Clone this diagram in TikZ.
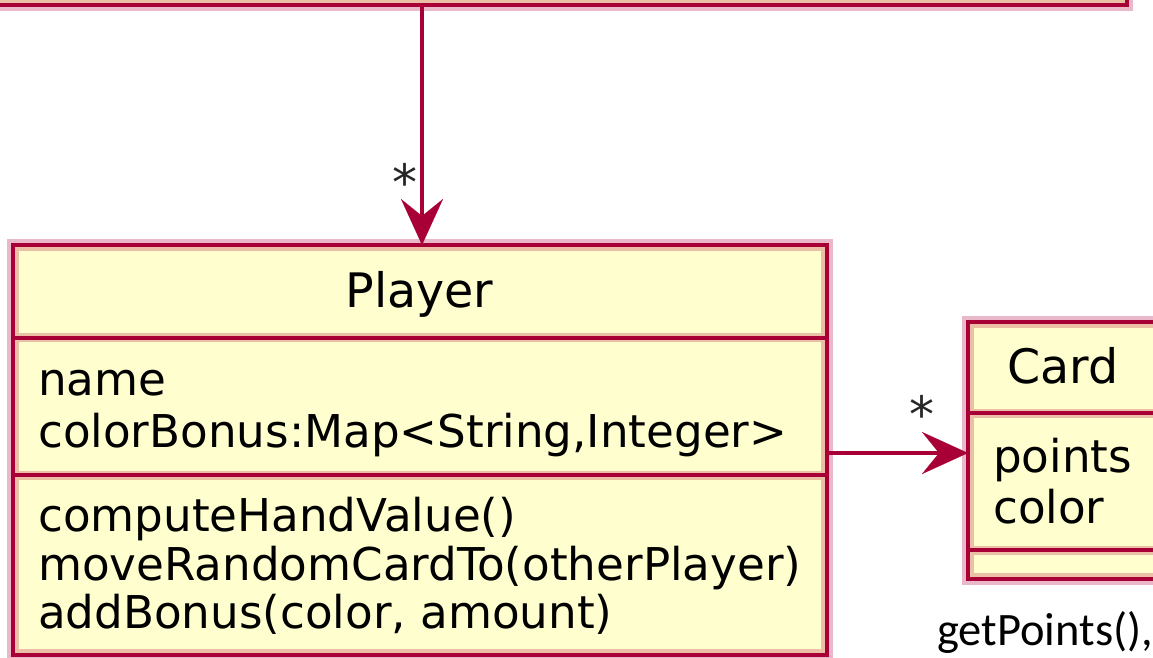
\documentclass[tikz,border=0pt]{standalone}
\usepackage{fontspec}
\setmainfont{DejaVu Sans}
\newfontfamily\notefont{Carlito}
\usetikzlibrary{arrows.meta}

\definecolor{umlred}{HTML}{A80036}
\definecolor{umlfill}{HTML}{FEFECE}
\definecolor{umlhalo}{HTML}{E9B8CA}
\definecolor{umltan}{HTML}{EBBEA6}

% horizontal compartment separator: from x=#1 to x=#2 at height #3
\newcommand\umlsep[3]{%
  \draw[umltan, line width=9pt] (#1,#3) -- (#2,#3);
  \draw[umlred, line width=4pt] (#1,#3) -- (#2,#3);}

\tikzset{
  umlbox/.style={rectangle, draw=umlred, line width=4pt, fill=umlfill,
    inner sep=0pt, outer sep=0pt,
    preaction={draw=umlhalo, line width=12pt}},
  tanframe/.style={draw=umltan, line width=4pt},
  classname/.style={font=\fontsize{47.5pt}{55pt}\selectfont, anchor=base, inner sep=0pt},
  member/.style={font=\fontsize{45.2pt}{50pt}\selectfont, anchor=base west, inner sep=0pt},
  mult/.style={font=\fontsize{50pt}{55pt}\selectfont, anchor=north, inner sep=0pt, text=black!85},
  note/.style={font=\notefont\fontsize{46.5pt}{50pt}\selectfont, anchor=base west, inner sep=0pt},
  assoc/.style={draw=umlred, line width=3.5pt,
    -{Stealth[length=46pt, width=42pt, inset=17pt, line width=0.1pt]}},
}

\begin{document}
\begin{tikzpicture}[x=1pt, y=-1pt]
\useasboundingbox (0,0) rectangle (1153,657);
\clip (0,0) rectangle (1153,657);

% class boxes
\node[umlbox, minimum width=1157pt, minimum height=220pt] (topbox) at (548.5,-105) {};
\draw[tanframe] ([shift={(4,4)}]topbox.north west) rectangle ([shift={(-4,-4)}]topbox.south east);

\node[umlbox, minimum width=814pt, minimum height=410pt] (player) at (419.5,450) {};
\draw[tanframe] ([shift={(4,4)}]player.north west) rectangle ([shift={(-4,-4)}]player.south east);
\umlsep{14.5}{824.5}{337.5}
\umlsep{14.5}{824.5}{475}

\node[umlbox, minimum width=202pt, minimum height=257.5pt] (card) at (1069,450.25) {};
\draw[tanframe] ([shift={(4,4)}]card.north west) rectangle ([shift={(-4,-4)}]card.south east);
\umlsep{970}{1168}{413}
\umlsep{970}{1168}{550}

% Player contents
\node[classname] (playername) at (419.5,307) {Player};
\node[member] (pa1) at (38,395) {name};
\node[member] (pa2) at (38,447) {colorBonus:Map<String,Integer>};
\node[member] (pm1) at (38,531) {computeHandValue()};
\node[member] (pm2) at (38,580.5) {moveRandomCardTo(otherPlayer)};
\node[member] (pm3) at (38,628.5) {addBonus(color, amount)};

% Card contents
\node[classname] (cardname) at (1063,383) {Card};
\node[member] (ca1) at (993,472) {points};
\node[member] (ca2) at (993,523) {color};

% associations
\coordinate (vx) at (422,0);
\coordinate (hy) at (0,453);
\draw[assoc] (vx |- topbox.south) -- (vx |- player.north);
\draw[assoc] (player.east |- hy) -- (card.west |- hy);
\node[mult] (m1) at (405,163) {*};
\node[mult] (m2) at (922,395) {*};

% note text under the Card class
\node[note] (notetext) at (937,645) {getPoints(),};
\end{tikzpicture}
\end{document}
